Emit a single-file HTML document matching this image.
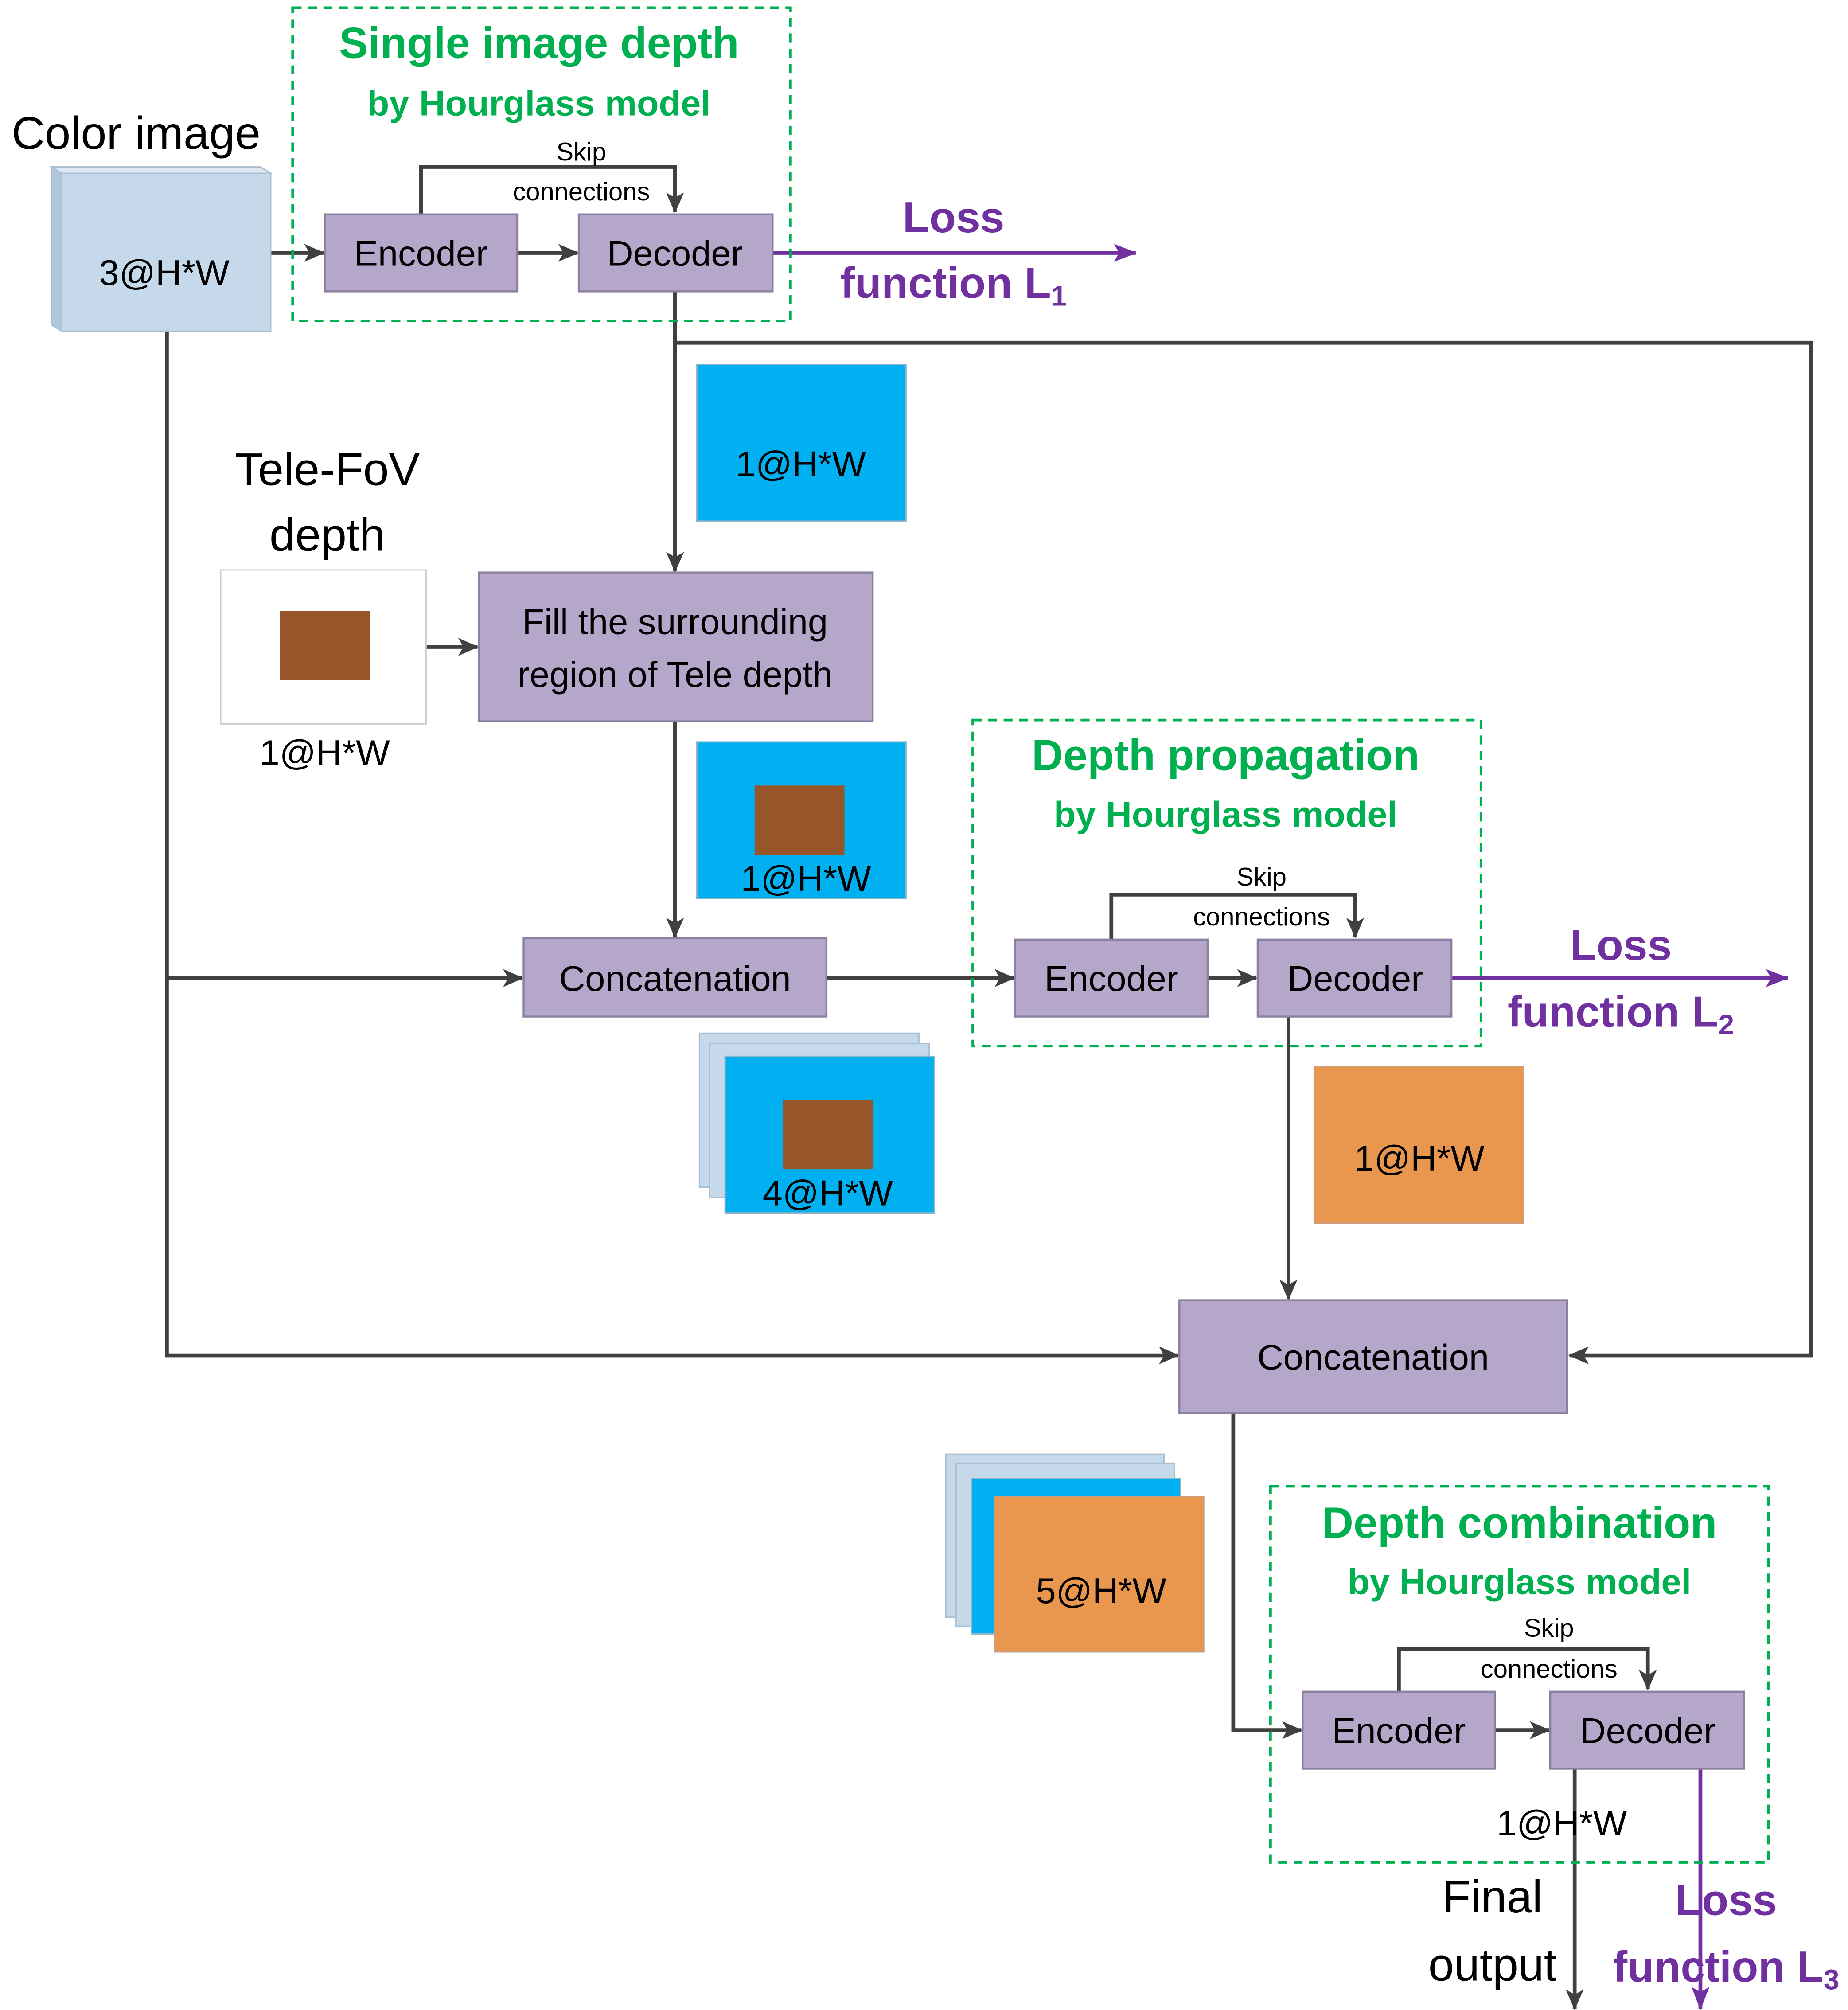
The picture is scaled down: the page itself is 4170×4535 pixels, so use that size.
<!DOCTYPE html>
<html><head><meta charset="utf-8"><style>html,body{margin:0;padding:0;background:#fff}svg{display:block}</style></head>
<body>
<svg xmlns="http://www.w3.org/2000/svg" width="4170" height="4535" viewBox="0 0 1440 1566" font-family="Liberation Sans, sans-serif">
<defs>
<marker id="ak" markerWidth="16" markerHeight="14" refX="15" refY="7" orient="auto" markerUnits="userSpaceOnUse"><path d="M0,0 L16,7 L0,14 L4,7 z" fill="#404040"/></marker>
<marker id="ap" markerWidth="18" markerHeight="14" refX="17" refY="7" orient="auto" markerUnits="userSpaceOnUse"><path d="M0,0 L18,7 L0,14 L4,7 z" fill="#7030a0"/></marker>
</defs>
<g stroke="#404040" stroke-width="3" fill="none">
<line x1="211" y1="197" x2="252" y2="197" marker-end="url(#ak)"/>
<line x1="403" y1="197" x2="450" y2="197" marker-end="url(#ak)"/>
<polyline points="328,167 328,130 526,130 526,165" marker-end="url(#ak)"/>
<line x1="526" y1="227" x2="526" y2="445" marker-end="url(#ak)"/>
<polyline points="526,267 1411,267 1411,1056 1223,1056" marker-end="url(#ak)"/>
<line x1="332" y1="504" x2="372" y2="504" marker-end="url(#ak)"/>
<line x1="526" y1="562" x2="526" y2="730" marker-end="url(#ak)"/>
<polyline points="130,258 130,1056 918,1056" marker-end="url(#ak)"/>
<line x1="130" y1="762" x2="407" y2="762" marker-end="url(#ak)"/>
<line x1="644" y1="762" x2="790" y2="762" marker-end="url(#ak)"/>
<polyline points="866,732 866,697 1056,697 1056,730" marker-end="url(#ak)"/>
<line x1="941" y1="762" x2="979" y2="762" marker-end="url(#ak)"/>
<line x1="1004" y1="792" x2="1004" y2="1012" marker-end="url(#ak)"/>
<polyline points="961,1101 961,1348 1014,1348" marker-end="url(#ak)"/>
<polyline points="1090,1318 1090,1285 1284,1285 1284,1316" marker-end="url(#ak)"/>
<line x1="1165" y1="1348" x2="1207" y2="1348" marker-end="url(#ak)"/>
<line x1="1227" y1="1378" x2="1227" y2="1565" marker-end="url(#ak)"/>
</g>
<g stroke="#7030a0" stroke-width="3" fill="none">
<line x1="602" y1="197" x2="885" y2="197" marker-end="url(#ap)"/>
<line x1="1131" y1="762" x2="1393" y2="762" marker-end="url(#ap)"/>
<line x1="1325" y1="1378" x2="1325" y2="1565" marker-end="url(#ap)"/>
</g>
<g stroke="#00b050" stroke-width="2" stroke-dasharray="7,5" fill="none">
<rect x="228" y="6" width="388" height="244"/>
<rect x="758" y="561" width="396" height="254"/>
<rect x="990" y="1158" width="388" height="293"/>
</g>
<polygon points="40,130 203,130 211,135 48,135" fill="#dce8f2" stroke="#a9bfd2"/>
<polygon points="40,130 48,135 48,258 40,253" fill="#b0c6da" stroke="#a9bfd2"/>
<rect x="48" y="135" width="163" height="123" fill="#c5d9ea" stroke="#a9bfd2"/>
<g fill="#b4a7c9" stroke="#8a7fa0" stroke-width="1.5">
<rect x="253" y="167" width="150" height="60"/>
<rect x="451" y="167" width="151" height="60"/>
<rect x="373" y="446" width="307" height="116"/>
<rect x="408" y="731" width="236" height="61"/>
<rect x="791" y="732" width="150" height="60"/>
<rect x="980" y="732" width="151" height="60"/>
<rect x="919" y="1013" width="302" height="88"/>
<rect x="1015" y="1318" width="150" height="60"/>
<rect x="1208" y="1318" width="151" height="60"/>
</g>
<rect x="543" y="284" width="163" height="122" fill="#00b0f0" stroke="#8fb4c8"/>
<rect x="172" y="444" width="160" height="120" fill="#fff" stroke="#ccc"/>
<rect x="218" y="476" width="70" height="54" fill="#96562a"/>
<rect x="543" y="578" width="163" height="122" fill="#00b0f0" stroke="#8fb4c8"/>
<rect x="588" y="612" width="70" height="54" fill="#96562a"/>
<rect x="545" y="805" width="171" height="120" fill="#c5d9ea" stroke="#a9bfd2"/>
<rect x="553" y="813" width="171" height="120" fill="#c5d9ea" stroke="#a9bfd2"/>
<rect x="565" y="823" width="163" height="122" fill="#00b0f0" stroke="#8fb4c8"/>
<rect x="610" y="857" width="70" height="54" fill="#96562a"/>
<rect x="1024" y="831" width="163" height="122" fill="#e9974f" stroke="#c8a080"/>
<rect x="737" y="1133" width="170" height="127" fill="#c5d9ea" stroke="#a9bfd2"/>
<rect x="745" y="1140" width="170" height="127" fill="#c5d9ea" stroke="#a9bfd2"/>
<rect x="757" y="1152" width="163" height="121" fill="#00b0f0" stroke="#8fb4c8"/>
<rect x="775" y="1166" width="163" height="121" fill="#e9974f" stroke="#c8a080"/>
<g fill="#000" text-anchor="middle" font-size="28">
<text x="106" y="116" font-size="36">Color image</text>
<text x="128" y="222">3@H*W</text>
<text x="328" y="207">Encoder</text>
<text x="526" y="207">Decoder</text>
<text x="453" y="125" font-size="20">Skip</text>
<text x="453" y="156" font-size="20">connections</text>
<text x="624" y="371">1@H*W</text>
<text x="255" y="378" font-size="36">Tele-FoV</text>
<text x="255" y="429" font-size="36">depth</text>
<text x="253" y="596">1@H*W</text>
<text x="526" y="494">Fill the surrounding</text>
<text x="526" y="535">region of Tele depth</text>
<text x="628" y="694">1@H*W</text>
<text x="526" y="772">Concatenation</text>
<text x="866" y="772">Encoder</text>
<text x="1056" y="772">Decoder</text>
<text x="983" y="690" font-size="20">Skip</text>
<text x="983" y="721" font-size="20">connections</text>
<text x="645" y="939">4@H*W</text>
<text x="1106" y="912">1@H*W</text>
<text x="1070" y="1067">Concatenation</text>
<text x="858" y="1249">5@H*W</text>
<text x="1090" y="1358">Encoder</text>
<text x="1284" y="1358">Decoder</text>
<text x="1207" y="1275" font-size="20">Skip</text>
<text x="1207" y="1307" font-size="20">connections</text>
<text x="1217" y="1430">1@H*W</text>
<text x="1163" y="1490" font-size="36">Final</text>
<text x="1163" y="1543" font-size="36">output</text>
</g>
<g fill="#00b050" text-anchor="middle" font-weight="bold">
<text x="420" y="45" font-size="34">Single image depth</text>
<text x="420" y="90" font-size="28">by Hourglass model</text>
<text x="955" y="600" font-size="34">Depth propagation</text>
<text x="955" y="644" font-size="28">by Hourglass model</text>
<text x="1184" y="1198" font-size="34">Depth combination</text>
<text x="1184" y="1242" font-size="28">by Hourglass model</text>
</g>
<g fill="#7030a0" text-anchor="middle" font-weight="bold" font-size="34">
<text x="743" y="181">Loss</text>
<text x="743" y="232">function L<tspan font-size="22" dy="6">1</tspan></text>
<text x="1263" y="748">Loss</text>
<text x="1263" y="800">function L<tspan font-size="22" dy="6">2</tspan></text>
<text x="1345" y="1492">Loss</text>
<text x="1345" y="1544">function L<tspan font-size="22" dy="6">3</tspan></text>
</g>
</svg>
</body></html>
